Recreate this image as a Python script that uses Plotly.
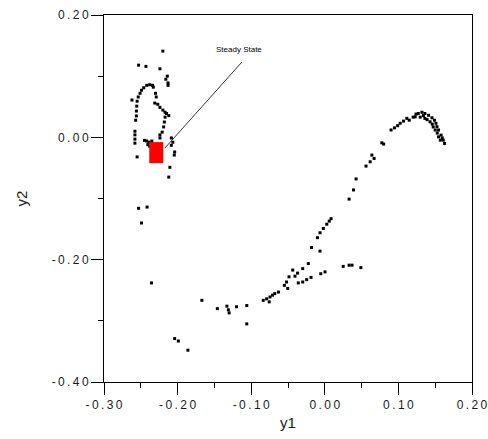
import plotly.graph_objects as go

# Phase-plane trajectory samples (y1, y2)
y1 = [
    -0.220, -0.253, -0.243, -0.224, -0.214, -0.216, -0.213, -0.213, -0.262,
    -0.258, -0.258, -0.258, -0.258, -0.257, -0.256, -0.256, -0.2555, -0.255,
    -0.2535, -0.251, -0.249, -0.246, -0.242, -0.238, -0.234, -0.233, -0.230,
    -0.229, -0.231, -0.227, -0.224, -0.220, -0.217, -0.215, -0.212, -0.217,
    -0.218, -0.219, -0.221, -0.224, -0.224,
    -0.245, -0.242, -0.239, -0.236, -0.2405, -0.238, -0.235,
    -0.2085, -0.2065, -0.2085, -0.204, -0.2045, -0.2105, -0.212, -0.255,
    -0.253, -0.2415, -0.249, -0.2355,
    -0.204, -0.199, -0.186, -0.167, -0.146, -0.133, -0.131, -0.130, -0.120,
    -0.106, -0.106, -0.0836, -0.079, -0.0755, -0.0745, -0.071, -0.068, -0.063,
    -0.055, -0.0504, -0.052, -0.0486, -0.0436, -0.0405, -0.037, -0.030, -0.0224,
    -0.036, -0.030, -0.0246, -0.0187, -0.0055, 0.0003,
    -0.018, -0.0065, -0.010, -0.0065, -0.002, 0.0027, 0.006, 0.0085,
    0.025, 0.033, 0.037, 0.049,
    0.033, 0.039, 0.0425, 0.056, 0.0616, 0.064, 0.067, 0.0775, 0.080,
    0.090, 0.0947, 0.099, 0.1024, 0.107, 0.1115, 0.1147, 0.1228, 0.127,
    0.132, 0.136, 0.141, 0.1456, 0.149, 0.151, 0.1524, 0.1545, 0.158,
    0.161, 0.1627, 0.136, 0.143, 0.150, 0.1545, 0.157,
    0.1296, 0.134, 0.139, 0.146, 0.1473, 0.1528, 0.1596, 0.124, 0.120,
]
y2 = [
    0.141, 0.118, 0.116, 0.112, 0.100, 0.095, 0.089, 0.085, 0.061,
    -0.0095, -0.003, 0.004, 0.010, 0.028, 0.035, 0.043, 0.051, 0.059,
    0.066, 0.072, 0.077, 0.081, 0.085, 0.086, 0.085, 0.082, 0.072,
    0.066, 0.056, 0.054, 0.049, 0.0445, 0.041, 0.039, 0.0355, 0.033,
    0.025, 0.017, 0.0085, 0.004, -0.001,
    -0.005, -0.006, -0.008, -0.0095, -0.012, -0.0145, -0.006,
    -0.001, -0.008, -0.013, -0.024, -0.029, -0.049, -0.065, -0.032,
    -0.116, -0.114, -0.140, -0.238,
    -0.329, -0.333, -0.348, -0.2665, -0.280, -0.276, -0.282, -0.287, -0.277,
    -0.275, -0.305, -0.2665, -0.264, -0.269, -0.261, -0.258, -0.2555, -0.253,
    -0.242, -0.247, -0.2365, -0.228, -0.217, -0.227, -0.222, -0.2146, -0.2064,
    -0.238, -0.2365, -0.2326, -0.229, -0.223, -0.220,
    -0.180, -0.186, -0.164, -0.156, -0.149, -0.142, -0.137, -0.133,
    -0.211, -0.209, -0.209, -0.213,
    -0.101, -0.086, -0.068, -0.047, -0.040, -0.029, -0.0345, -0.009, -0.011,
    0.012, 0.0155, 0.019, 0.023, 0.0265, 0.031, 0.028, 0.0335, 0.039,
    0.041, 0.039, 0.036, 0.032, 0.028, 0.023, 0.0175, 0.012, 0.0036,
    -0.0046, -0.010, 0.031, 0.0254, 0.012, 0.0008, -0.0046,
    0.033, 0.0355, 0.029, 0.0216, 0.017, 0.007, -0.001, 0.038, 0.033,
]

# Steady state location and its label
steady_y1 = -0.229
steady_y2 = -0.025
steady_label = "Steady State"
label_pos = (-0.1167, 0.1435)
leader_start = (-0.1126, 0.1231)
leader_end = (-0.2174, -0.0177)

# Half-size of the steady-state marker box in data units
box_hw = 0.0095
box_hh = 0.0172

x_tickvals = [-0.30, -0.20, -0.10, 0.00, 0.10, 0.20]
x_ticklabels = ["-0.30", "-0.20", "-0.10", "0.00", "0.10", "0.20"]
y_tickvals = [-0.40, -0.20, 0.00, 0.20]
y_ticklabels = ["-0.40", "-0.20", "0.00", "0.20"]


def spaced(label):
    # open up the tick labels a little with thin spaces between characters
    return "\u2009".join(label)


fig = go.Figure()
fig.add_trace(go.Scatter(
    x=y1, y=y2, mode="markers",
    marker=dict(symbol="square", size=3, color="black", line=dict(width=0)),
    showlegend=False, hoverinfo="skip",
))

fig.add_shape(type="rect", xref="x", yref="y",
              x0=steady_y1 - box_hw, x1=steady_y1 + box_hw,
              y0=steady_y2 - box_hh, y1=steady_y2 + box_hh,
              fillcolor="#ff0000", line=dict(width=0))
fig.add_shape(type="line", xref="x", yref="y",
              x0=leader_start[0], y0=leader_start[1],
              x1=leader_end[0], y1=leader_end[1],
              line=dict(color="black", width=0.8))
fig.add_annotation(x=label_pos[0], y=label_pos[1], xref="x", yref="y",
                   text=steady_label, showarrow=False,
                   font=dict(family="Arial, Liberation Sans", size=8, color="black"))

axis_font = dict(family="Arial, Liberation Sans", size=12, color="#1a1a1a")
title_font = dict(family="Arial, Liberation Sans", size=15, color="#1a1a1a")
common = dict(
    showline=True, linecolor="black", linewidth=1, mirror=True,
    showgrid=False, zeroline=False, automargin=False,
    ticks="outside", ticklen=12, tickwidth=1, tickcolor="black",
    tickfont=axis_font,
)
fig.update_xaxes(
    range=[-0.30, 0.20], tickvals=x_tickvals,
    ticktext=[spaced(t) for t in x_ticklabels],
    minor=dict(ticks="outside", ticklen=5, dtick=0.05, tick0=-0.30, tickcolor="black"),
    title=dict(text="y1", font=title_font, standoff=6),
    **common,
)
fig.update_yaxes(
    range=[-0.40, 0.20], tickvals=y_tickvals,
    ticktext=[spaced(t) for t in y_ticklabels],
    minor=dict(ticks="outside", ticklen=5, dtick=0.1, tick0=-0.40, tickcolor="black"),
    title=dict(text="y2", font=title_font, standoff=20),
    **common,
)
fig.update_layout(
    width=488, height=439,
    margin=dict(l=104, r=16, t=15, b=57),
    paper_bgcolor="white", plot_bgcolor="white",
)
fig.write_html("out.html")
